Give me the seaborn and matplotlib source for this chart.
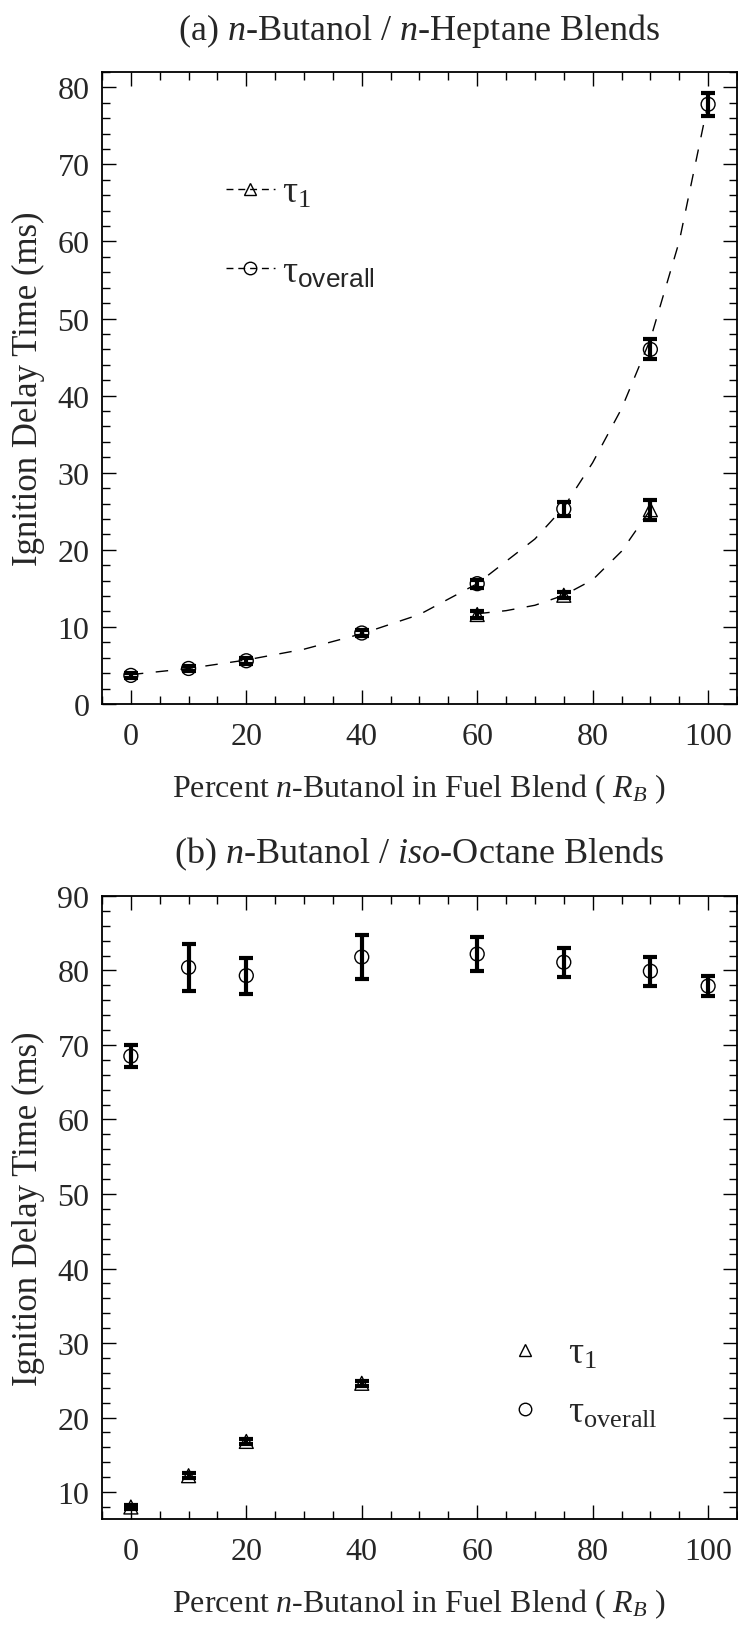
import matplotlib
matplotlib.use("Agg")
import matplotlib.pyplot as plt
import seaborn as sns
import pandas as pd
from matplotlib.lines import Line2D
from matplotlib.ticker import MultipleLocator

# ---------------- data: panel (a) n-Butanol / n-Heptane ----------------
blend_a_overall = [0, 10, 20, 40, 60, 75, 90, 100]
tau_overall_a = [3.7, 4.6, 5.6, 9.2, 15.6, 25.3, 46.0, 77.8]
err_overall_a = [0.3, 0.3, 0.4, 0.4, 0.5, 0.9, 1.3, 1.5]

blend_a_tau1 = [60, 75, 90]
tau1_a = [11.6, 14.1, 25.2]
err_tau1_a = [0.4, 0.4, 1.3]

# dashed guide curves
fit_overall_x = [0, 10, 20, 30, 40, 50, 60, 70, 75, 80, 85, 90, 95, 100]
fit_overall_y = [3.8, 4.6, 5.7, 7.1, 9.1, 11.6, 15.6, 21.4, 25.5, 31.3, 38.3, 47.3, 60.0, 78.0]
fit_tau1_x = [60, 65, 70, 75, 80, 85, 90]
fit_tau1_y = [11.7, 12.1, 12.8, 14.1, 16.1, 19.8, 25.2]

# ---------------- data: panel (b) n-Butanol / iso-Octane ----------------
blend_b_overall = [0, 10, 20, 40, 60, 75, 90, 100]
tau_overall_b = [68.5, 80.4, 79.3, 81.8, 82.2, 81.1, 79.9, 77.9]
err_overall_b = [1.5, 3.1, 2.4, 2.9, 2.3, 1.95, 1.95, 1.4]

blend_b_tau1 = [0, 10, 20, 40]
tau1_b = [8.0, 12.2, 16.8, 24.6]
err_tau1_b = [0.25, 0.3, 0.3, 0.35]

x_ticks = [0, 20, 40, 60, 80, 100]

# ---------------- style ----------------
sns.set_style("ticks")
plt.rcParams["font.family"] = ["Liberation Serif", "DejaVu Serif"]
plt.rcParams["mathtext.fontset"] = "custom"
plt.rcParams["mathtext.rm"] = "Liberation Serif"
plt.rcParams["mathtext.it"] = "Liberation Serif:italic"
plt.rcParams["mathtext.sf"] = "Liberation Sans"

fig = plt.figure(figsize=(7.38, 16.31), dpi=100)
ax_a = fig.add_axes([0.1382, 0.5678, 0.8604, 0.3875])
ax_b = fig.add_axes([0.1382, 0.0681, 0.8604, 0.3820])

TICK_FS = 23
XLABEL_FS = 23
YLABEL_FS = 25
TITLE_FS = 26
LEG_FS = 27


def style_axes(ax, ylim):
    ax.set_xlim(-5, 105)
    ax.set_ylim(*ylim)
    ax.set_xticks(x_ticks)
    ax.xaxis.set_minor_locator(MultipleLocator(5))
    ax.yaxis.set_major_locator(MultipleLocator(10))
    ax.yaxis.set_minor_locator(MultipleLocator(2))
    ax.tick_params(which="both", direction="in", top=True, right=True,
                   width=1.0, color="black", labelsize=TICK_FS)
    ax.tick_params(which="major", length=10)
    ax.tick_params(which="minor", length=6)
    ax.tick_params(axis="x", pad=13)
    ax.tick_params(axis="y", pad=9)
    for s in ax.spines.values():
        s.set_linewidth(1.3)
        s.set_color("black")
    ax.set_xlabel(r"Percent $\mathit{n}$-Butanol in Fuel Blend ( $\mathit{R_B}$ )",
                  fontsize=XLABEL_FS, labelpad=15)
    ax.set_ylabel("Ignition Delay Time (ms)", fontsize=YLABEL_FS, labelpad=9)


ERR_KW = dict(fmt="none", ecolor="black", elinewidth=3.0, capsize=4.8,
              capthick=3.0, zorder=3)
MK_KW = dict(facecolors="none", edgecolor="black", linewidth=1.0, s=100, zorder=2)

# ---------------- panel (a) ----------------
sns.lineplot(x=fit_overall_x, y=fit_overall_y, ax=ax_a, color="black",
             linewidth=1.0, linestyle=(0, (9, 9)), zorder=1)
sns.lineplot(x=fit_tau1_x, y=fit_tau1_y, ax=ax_a, color="black",
             linewidth=1.0, linestyle=(0, (9, 9)), zorder=1)
sns.scatterplot(x=blend_a_overall, y=tau_overall_a, ax=ax_a, marker="o", **MK_KW)
sns.scatterplot(x=blend_a_tau1, y=tau1_a, ax=ax_a, marker="^", **MK_KW)
ax_a.errorbar(blend_a_overall, tau_overall_a, yerr=err_overall_a, **ERR_KW)
ax_a.errorbar(blend_a_tau1, tau1_a, yerr=err_tau1_a, **ERR_KW)
style_axes(ax_a, (0, 82))
ax_a.set_title(r"(a) $\mathit{n}$-Butanol / $\mathit{n}$-Heptane Blends",
               fontsize=TITLE_FS, pad=24)

h1 = Line2D([], [], color="black", lw=1.0, linestyle=(0, (5, 3.5)), marker="^",
            markerfacecolor="none", markeredgecolor="black", markersize=9)
h2 = Line2D([], [], color="black", lw=1.0, linestyle=(0, (5, 3.5)), marker="o",
            markerfacecolor="none", markeredgecolor="black", markersize=9)
ax_a.legend([h1, h2], [r"τ$_{\mathrm{1}}$", r"τ$_{\mathsf{overall}}$"],
            loc="upper left", bbox_to_anchor=(0.195, 0.836), frameon=False,
            fontsize=LEG_FS, handlelength=1.3, handletextpad=0.2,
            labelspacing=1.2, borderpad=0, borderaxespad=0)

# ---------------- panel (b) ----------------
sns.scatterplot(x=blend_b_overall, y=tau_overall_b, ax=ax_b, marker="o", **MK_KW)
sns.scatterplot(x=blend_b_tau1, y=tau1_b, ax=ax_b, marker="^", **MK_KW)
ax_b.errorbar(blend_b_overall, tau_overall_b, yerr=err_overall_b, **ERR_KW)
ax_b.errorbar(blend_b_tau1, tau1_b, yerr=err_tau1_b, **ERR_KW)
style_axes(ax_b, (6.4, 90))
ax_b.set_title(r"(b) $\mathit{n}$-Butanol / $\mathit{iso}$-Octane Blends",
               fontsize=TITLE_FS, pad=24)

g1 = Line2D([], [], linestyle="none", marker="^", markerfacecolor="none",
            markeredgecolor="black", markersize=9)
g2 = Line2D([], [], linestyle="none", marker="o", markerfacecolor="none",
            markeredgecolor="black", markersize=9)
ax_b.legend([g1, g2], [r"τ$_{\mathrm{1}}$", r"τ$_{\mathrm{overall}}$"],
            loc="upper left", bbox_to_anchor=(0.625, 0.293), frameon=False,
            fontsize=LEG_FS, handlelength=1.4, handletextpad=0.45,
            labelspacing=0.65, borderpad=0, borderaxespad=0)

fig.savefig("out.png", dpi=100)
